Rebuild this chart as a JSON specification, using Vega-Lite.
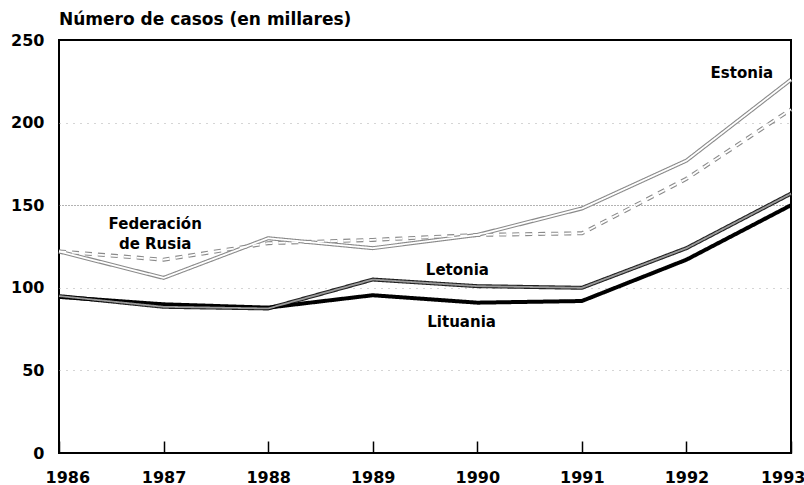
{
  "$schema": "https://vega.github.io/schema/vega-lite/v6.json",
  "width": 732,
  "height": 413,
  "autosize": {"type": "none"},
  "padding": {"left": 59, "top": 40, "right": 13, "bottom": 32},
  "background": "white",
  "config": {
    "view": {"stroke": "black", "strokeWidth": 2},
    "font": "DejaVu Sans"
  },
  "title": {
    "text": "Número de casos (en millares)",
    "anchor": "start",
    "frame": "group",
    "font": "DejaVu Sans",
    "fontSize": 17,
    "fontWeight": "bold",
    "color": "black",
    "offset": 3
  },
  "datasets": {
    "series": [
      {"country": "Estonia", "year": 1986, "value": 122},
      {"country": "Estonia", "year": 1987, "value": 106},
      {"country": "Estonia", "year": 1988, "value": 130},
      {"country": "Estonia", "year": 1989, "value": 124},
      {"country": "Estonia", "year": 1990, "value": 132},
      {"country": "Estonia", "year": 1991, "value": 148},
      {"country": "Estonia", "year": 1992, "value": 177},
      {"country": "Estonia", "year": 1993, "value": 226},
      {"country": "Federación de Rusia", "year": 1986, "value": 122},
      {"country": "Federación de Rusia", "year": 1987, "value": 117},
      {"country": "Federación de Rusia", "year": 1988, "value": 127},
      {"country": "Federación de Rusia", "year": 1989, "value": 129},
      {"country": "Federación de Rusia", "year": 1990, "value": 132},
      {"country": "Federación de Rusia", "year": 1991, "value": 133},
      {"country": "Federación de Rusia", "year": 1992, "value": 166},
      {"country": "Federación de Rusia", "year": 1993, "value": 208},
      {"country": "Letonia", "year": 1986, "value": 95},
      {"country": "Letonia", "year": 1987, "value": 88.5},
      {"country": "Letonia", "year": 1988, "value": 87.5},
      {"country": "Letonia", "year": 1989, "value": 105},
      {"country": "Letonia", "year": 1990, "value": 101},
      {"country": "Letonia", "year": 1991, "value": 100},
      {"country": "Letonia", "year": 1992, "value": 124},
      {"country": "Letonia", "year": 1993, "value": 157},
      {"country": "Lituania", "year": 1986, "value": 94.5},
      {"country": "Lituania", "year": 1987, "value": 90},
      {"country": "Lituania", "year": 1988, "value": 88},
      {"country": "Lituania", "year": 1989, "value": 95.5},
      {"country": "Lituania", "year": 1990, "value": 91},
      {"country": "Lituania", "year": 1991, "value": 92},
      {"country": "Lituania", "year": 1992, "value": 117},
      {"country": "Lituania", "year": 1993, "value": 150}
    ],
    "labels": [
      {"label": "Federación\nde Rusia", "year": 1986.92, "value": 138.5},
      {"label": "Letonia", "year": 1989.81, "value": 110.5},
      {"label": "Lituania", "year": 1989.85, "value": 79},
      {"label": "Estonia", "year": 1992.53, "value": 230}
    ]
  },
  "layer": [
    {
      "data": {"name": "series"},
      "mark": {"type": "line", "strokeJoin": "miter", "strokeCap": "butt"},
      "encoding": {
        "x": {
          "field": "year",
          "type": "quantitative",
          "scale": {"domain": [1986, 1993], "nice": false, "zero": false},
          "axis": {
            "values": [1986, 1987, 1988, 1989, 1990, 1991, 1992, 1993],
            "format": "d",
            "title": null,
            "domain": false,
            "grid": false,
            "tickSize": -12,
            "tickColor": "black",
            "tickWidth": 1.5,
            "labelFont": "DejaVu Sans",
            "labelFontWeight": "bold",
            "labelFontSize": 16,
            "labelColor": "black",
            "labelPadding": 28,
            "labelFlush": true,
            "labelFlushOffset": 14
          }
        },
        "y": {
          "field": "value",
          "type": "quantitative",
          "scale": {"domain": [0, 250], "nice": false},
          "axis": {
            "values": [0, 50, 100, 150, 200, 250],
            "title": null,
            "domain": false,
            "ticks": false,
            "labelFont": "DejaVu Sans",
            "labelFontWeight": "bold",
            "labelFontSize": 16,
            "labelColor": "black",
            "labelPadding": 15,
            "grid": true,
            "gridWidth": 1,
            "gridColor": {"condition": {"test": "datum.value == 150", "value": "#666666"}, "value": "#aaaaaa"},
            "gridDash": {"condition": {"test": "datum.value == 150", "value": [1, 2]}, "value": [1, 6]},
            "gridOpacity": {"condition": {"test": "datum.value == 0 || datum.value == 250", "value": 0}, "value": 1}
          }
        },
        "color": {
          "field": "country",
          "type": "nominal",
          "scale": {"domain": ["Estonia", "Federación de Rusia", "Letonia", "Lituania"], "range": ["#8a8a8a", "#8a8a8a", "#222222", "#000000"]},
          "legend": null
        },
        "strokeWidth": {
          "field": "country",
          "type": "nominal",
          "scale": {"domain": ["Estonia", "Federación de Rusia", "Letonia", "Lituania"], "range": [4, 4, 5.5, 6.5]},
          "legend": null
        },
        "strokeDash": {
          "field": "country",
          "type": "nominal",
          "scale": {"domain": ["Estonia", "Federación de Rusia", "Letonia", "Lituania"], "range": [[1, 0], [7, 6], [1, 0], [1, 0]]},
          "legend": null
        }
      }
    },
    {
      "data": {"name": "series"},
      "transform": [{"filter": "datum.country !== 'Lituania'"}],
      "mark": {"type": "line", "strokeWidth": 1.8, "strokeCap": "butt"},
      "encoding": {
        "x": {"field": "year", "type": "quantitative"},
        "y": {"field": "value", "type": "quantitative"},
        "color": {
          "field": "country",
          "type": "nominal",
          "scale": {"domain": ["Estonia", "Federación de Rusia", "Letonia"], "range": ["#ffffff", "#ffffff", "#9a9a9a"]},
          "legend": null
        },
        "strokeDash": {
          "field": "country",
          "type": "nominal",
          "scale": {"domain": ["Estonia", "Federación de Rusia", "Letonia"], "range": [[1, 0], [7, 6], [1, 0]]},
          "legend": null
        }
      }
    },
    {
      "data": {"name": "labels"},
      "mark": {
        "type": "text",
        "font": "DejaVu Sans",
        "fontWeight": "bold",
        "fontSize": 15,
        "color": "black",
        "align": "center",
        "baseline": "middle",
        "lineBreak": "\n",
        "lineHeight": 20
      },
      "encoding": {
        "x": {"field": "year", "type": "quantitative"},
        "y": {"field": "value", "type": "quantitative"},
        "text": {"field": "label", "type": "nominal"}
      }
    }
  ],
  "resolve": {"scale": {"color": "independent", "strokeDash": "independent", "strokeWidth": "independent"}}
}
